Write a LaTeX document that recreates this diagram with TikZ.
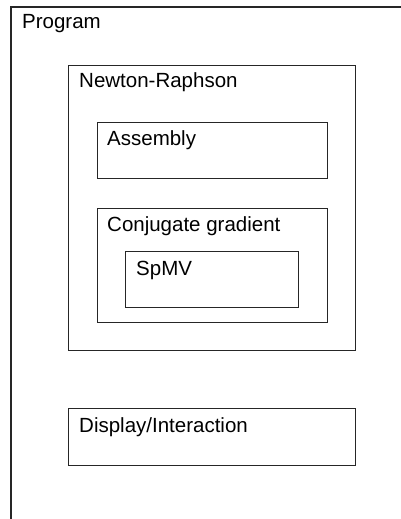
\documentclass[tikz,border=0pt]{standalone}
\usepackage{fontspec}
\setmainfont{Liberation Sans}
\begin{document}
\begin{tikzpicture}[x=1pt,y=-1pt,
  box/.style={draw=black!85, line width=1.1pt, rectangle, inner sep=0pt, anchor=north west},
  lbl/.style={anchor=base west, inner sep=0pt, font=\fontsize{20.5}{24}\selectfont}]
\useasboundingbox (0,0) rectangle (401,519);
% outer Program box (open at right and bottom)
\coordinate (pbl) at (11,519);
\coordinate (ptl) at (11,7);
\coordinate (ptr) at (401,7);
\draw[draw=black!85, line width=1.1pt] (pbl) -- (ptl) -- (ptr);
\node[lbl] (prog) at (22,29) {Program};
% Newton-Raphson
\node[box, minimum width=287pt, minimum height=285pt] (nr) at (68,65) {};
\node[lbl] (nrl) at (79,87) {Newton-Raphson};
% Assembly
\node[box, minimum width=230pt, minimum height=56pt] (as) at (97,122) {};
\node[lbl] (asl) at (107,145) {Assembly};
% Conjugate gradient
\node[box, minimum width=230pt, minimum height=114pt] (cg) at (97,208) {};
\node[lbl] (cgl) at (107,231) {Conjugate gradient};
% SpMV
\node[box, minimum width=173pt, minimum height=56pt] (sp) at (125,251) {};
\node[lbl] (spl) at (136,275) {SpMV};
% Display/Interaction
\node[box, minimum width=287pt, minimum height=57pt] (di) at (68,408) {};
\node[lbl] (dil) at (79,432) {Display/Interaction};
\end{tikzpicture}
\end{document}
